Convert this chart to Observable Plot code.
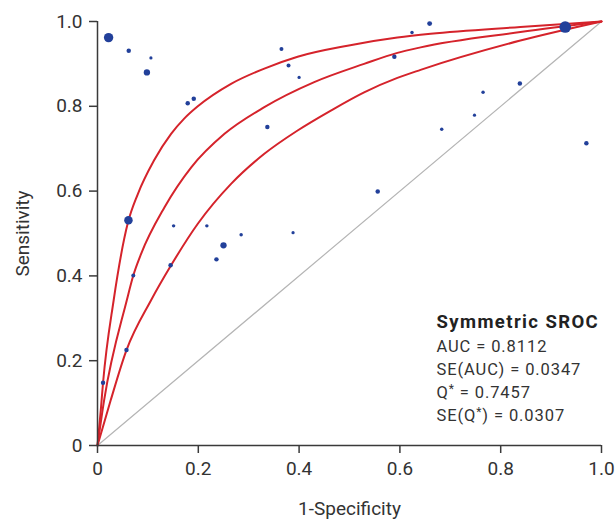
<!DOCTYPE html>
<html>
<head>
<meta charset="utf-8">
<script src="https://cdn.jsdelivr.net/npm/d3@7"></script>
<script src="https://cdn.jsdelivr.net/npm/@observablehq/plot@0.6"></script>
<style>
  html, body { margin: 0; padding: 0; background: #fff; }
</style>
</head>
<body>
<div id="chart"></div>
<script>
// Study points: 1-specificity, sensitivity, relative weight
const studyFpr  = [0.022, 0.062, 0.106, 0.098, 0.179, 0.191, 0.365, 0.379, 0.400, 0.337, 0.589, 0.624, 0.659, 0.928, 0.838, 0.765, 0.748, 0.683, 0.970, 0.556, 0.0614, 0.151, 0.217, 0.285, 0.250, 0.236, 0.145, 0.071, 0.388, 0.0575, 0.011];
const studySens = [0.962, 0.931, 0.914, 0.880, 0.807, 0.818, 0.935, 0.896, 0.868, 0.751, 0.917, 0.974, 0.995, 0.987, 0.854, 0.833, 0.779, 0.746, 0.713, 0.599, 0.531, 0.518, 0.518, 0.497, 0.472, 0.439, 0.425, 0.401, 0.502, 0.225, 0.148];
const studyWeight = [22, 5, 2.6, 10, 5, 5, 4, 4, 2.6, 5, 5, 3, 6, 34, 5, 3, 2.6, 3, 5, 5, 18, 3, 3, 3, 10, 5, 5, 4, 2.6, 5, 5];

// SROC curve (upper bound, fitted, lower bound)
const upperFpr  = [0, 0.0065, 0.011, 0.032, 0.060, 0.080, 0.112, 0.146, 0.172, 0.199, 0.265, 0.331, 0.397, 0.496, 0.595, 0.661, 0.839, 1];
const upperSens = [0, 0.083, 0.148, 0.342, 0.524, 0.593, 0.672, 0.735, 0.771, 0.800, 0.853, 0.889, 0.917, 0.943, 0.962, 0.971, 0.987, 1];
const midFpr    = [0, 0.013, 0.058, 0.071, 0.0865, 0.133, 0.186, 0.252, 0.331, 0.430, 0.529, 0.595, 0.641, 0.839, 1];
const midSens   = [0, 0.106, 0.342, 0.401, 0.452, 0.562, 0.656, 0.735, 0.798, 0.857, 0.900, 0.926, 0.939, 0.975, 1];
const lowerFpr  = [0, 0.026, 0.0575, 0.106, 0.146, 0.199, 0.265, 0.331, 0.397, 0.463, 0.529, 0.595, 0.641, 0.839, 1];
const lowerSens = [0, 0.106, 0.225, 0.342, 0.425, 0.523, 0.617, 0.688, 0.743, 0.790, 0.833, 0.867, 0.886, 0.955, 1];

const diagX = [0, 1];
const diagY = [0, 1];

const tickValues = [0, 0.2, 0.4, 0.6, 0.8, 1.0];
const tickLabels = ["0", "0.2", "0.4", "0.6", "0.8", "1.0"];

const statTitle = "Symmetric SROC";
const statLines = ["AUC = 0.8112", "SE(AUC) = 0.0347", "Q* = 0.7457", "SE(Q*) = 0.0307"];

// build tables
const studies = studyFpr.map((x, i) => ({x, y: studySens[i], w: studyWeight[i]}));
const curves = [
  ...upperFpr.map((x, i) => ({x, y: upperSens[i], c: "upper"})),
  ...midFpr.map((x, i) => ({x, y: midSens[i], c: "mid"})),
  ...lowerFpr.map((x, i) => ({x, y: lowerSens[i], c: "lower"}))
];
const diag = diagX.map((x, i) => ({x, y: diagY[i]}));
const fmt = d => tickLabels[tickValues.findIndex(t => Math.abs(t - d) < 1e-9)];

const red = "#d5232b";
const blue = "#22409a";
const axisColor = "#3a3a3a";

const annX = 0.6726;
const titleY = 0.2913;
const lineY0 = 0.2335;
const lineStep = 0.0543;

const chart = Plot.plot({
  width: 616,
  height: 522,
  marginLeft: 97,
  marginRight: 15,
  marginTop: 21,
  marginBottom: 77,
  style: {fontFamily: "Roboto, sans-serif", fontSize: "19px", color: "#333", background: "#fff"},
  x: {domain: [0, 1]},
  y: {domain: [0, 1]},
  r: {type: "sqrt", domain: [0, 36], range: [0, 6]},
  marks: [
    Plot.line(diag, {x: "x", y: "y", stroke: "#b5b5b5", strokeWidth: 1.2}),
    Plot.line(curves, {x: "x", y: "y", z: "c", stroke: red, strokeWidth: 2, curve: "monotone-x"}),
    Plot.dot(studies, {x: "x", y: "y", r: "w", fill: blue, stroke: "none"}),
    Plot.ruleX([0], {stroke: axisColor, strokeWidth: 1.5}),
    Plot.ruleY([0], {stroke: axisColor, strokeWidth: 1.5}),
    Plot.axisX({ticks: tickValues, tickFormat: fmt, tickSize: 8, tickPadding: 8, stroke: axisColor, strokeWidth: 1.5,
      fill: "#333", fontSize: 19, label: "1-Specificity", labelAnchor: "center", labelArrow: "none", labelOffset: 69}),
    Plot.axisY({ticks: tickValues, tickFormat: fmt, tickSize: 8, tickPadding: 7, stroke: axisColor, strokeWidth: 1.5,
      fill: "#333", fontSize: 19, label: "Sensitivity", labelAnchor: "center", labelArrow: "none", labelOffset: 82}),
    Plot.text([statTitle], {x: () => annX, y: () => titleY, text: d => d, textAnchor: "start",
      fontWeight: "bold", fontSize: 18.5, fill: "#222"}),
    Plot.text(statLines, {x: () => annX, y: (d, i) => lineY0 - i * lineStep, text: d => d, textAnchor: "start",
      fontSize: 16.5, fill: "#333"})
  ]
});

document.getElementById("chart").appendChild(chart);

// letter spacing for the annotation, superscript asterisks
d3.select(chart).selectAll("text").each(function () {
  const el = d3.select(this);
  if (this.querySelector("tspan")) return;
  const t = this.textContent;
  if (t === statTitle) el.style("letter-spacing", "1.4px");
  if (statLines.includes(t)) el.style("letter-spacing", "0.9px");
  if (!t.includes("*")) return;
  const parts = t.split("*");
  el.text(null);
  parts.forEach((p, i) => {
    if (i > 0) {
      el.append("tspan").attr("dy", "-5").attr("font-size", "12px").text("*");
      el.append("tspan").attr("dy", "5").text(p);
    } else {
      el.append("tspan").text(p);
    }
  });
});
</script>
</body>
</html>
